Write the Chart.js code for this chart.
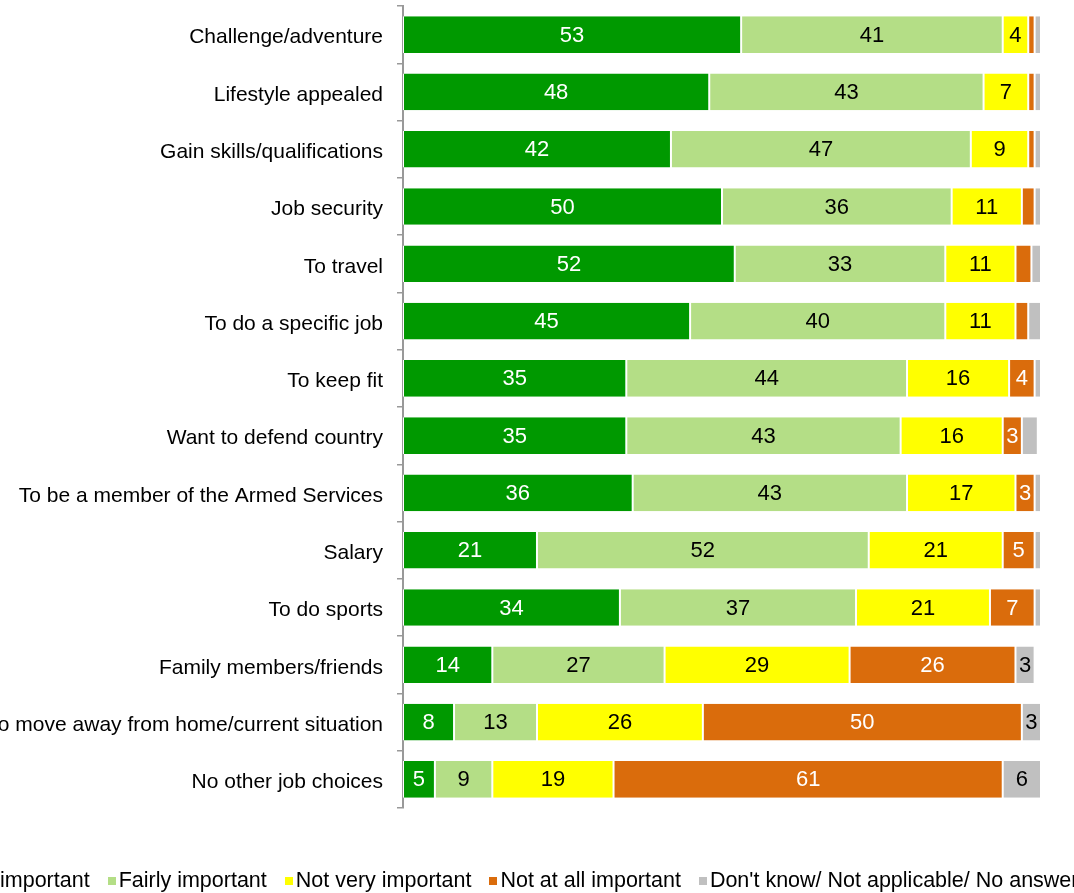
<!DOCTYPE html>
<html>
<head>
<meta charset="utf-8">
<script src="https://cdn.jsdelivr.net/npm/chart.js@4"></script>
<style>
  html, body { margin: 0; padding: 0; background: #fff; overflow: hidden; }
  #wrap { position: relative; width: 1074px; height: 893px; overflow: hidden; }
  #reasonsChart { position: absolute; left: 0; top: 0; }
  #legend {
    position: absolute; left: -60px; top: 868px;
    display: flex; white-space: nowrap;
    font: 21.5px "Liberation Sans", Arial, sans-serif; line-height: 24px; color: #000;
  }
  #legend .item { display: flex; align-items: center; margin-right: 18px; }
  #legend .box { width: 8px; height: 8px; margin: 2px 3px 0 0; }
</style>
</head>
<body>
<div id="wrap">
  <canvas id="reasonsChart" width="1074" height="893"></canvas>
  <div id="legend"></div>
</div>
<script>
const reasons = [
  "Challenge/adventure",
  "Lifestyle appealed",
  "Gain skills/qualifications",
  "Job security",
  "To travel",
  "To do a specific job",
  "To keep fit",
  "Want to defend country",
  "To be a member of the Armed Services",
  "Salary",
  "To do sports",
  "Family members/friends",
  "To move away from home/current situation",
  "No other job choices",
];

const veryImportant = [53, 48, 42, 50, 52, 45, 35, 35, 36, 21, 34, 14, 8, 5];
const fairlyImportant = [41, 43, 47, 36, 33, 40, 44, 43, 43, 52, 37, 27, 13, 9];
const notVeryImportant = [4, 7, 9, 11, 11, 11, 16, 16, 17, 21, 21, 29, 26, 19];
const notAtAllImportant = [1, 1, 1, 2, 2.5, 2, 4, 3, 3, 5, 7, 26, 50, 61];
const dontKnow = [1, 1, 1, 1, 1.5, 2, 1, 2.5, 1, 1, 1, 3, 3, 6];

const SERIES = [
  { label: "Very important", data: veryImportant, color: "#009900", text: "#fff" },
  { label: "Fairly important", data: fairlyImportant, color: "#B4DE86", text: "#000" },
  { label: "Not very important", data: notVeryImportant, color: "#FFFF00", text: "#000" },
  { label: "Not at all important", data: notAtAllImportant, color: "#DA6C0C", text: "#fff" },
  { label: "Don't know/ Not applicable/ No answer", data: dontKnow, color: "#C0C0C0", text: "#000" },
];

Chart.defaults.font.family = '"Liberation Sans", Arial, sans-serif';
Chart.defaults.font.size = 21;
Chart.defaults.color = "#000";

// writes each segment's value in its middle, skipping the slivers
const segmentLabels = {
  id: "segmentLabels",
  afterDatasetsDraw(chart) {
    const ctx = chart.ctx;
    ctx.save();
    ctx.font = '22px "Liberation Sans", Arial, sans-serif';
    ctx.textAlign = "center";
    ctx.textBaseline = "middle";
    chart.data.datasets.forEach((ds, i) => {
      chart.getDatasetMeta(i).data.forEach((bar, j) => {
        const v = ds.data[j];
        if (v < 3) return;
        const p = bar.getCenterPoint();
        ctx.fillStyle = SERIES[i].text;
        ctx.fillText(String(v), p.x, p.y + 1);
      });
    });
    ctx.restore();
  },
};

const datasets = SERIES.map((s) => ({
  label: s.label,
  data: s.data,
  backgroundColor: s.color,
  borderColor: "#fff",
  borderWidth: { left: 1, right: 1, top: 0, bottom: 0 },
  borderSkipped: false,
  barPercentage: 0.64,
  categoryPercentage: 1,
}));

const chart = new Chart(document.getElementById("reasonsChart"), {
  type: "bar",
  data: { labels: reasons, datasets },
  options: {
    indexAxis: "y",
    responsive: false,
    animation: false,
    layout: { padding: { top: 6, left: 0, right: 33, bottom: 0 } },
    plugins: {
      tooltip: { enabled: false },
      legend: { display: false },
    },
    scales: {
      x: {
        stacked: true,
        min: 0,
        max: 100,
        grid: { display: false },
        border: { display: false },
        ticks: { display: false },
        afterFit(scale) {
          scale.height = 85;
        },
      },
      y: {
        stacked: true,
        grid: {
          drawOnChartArea: false,
          drawTicks: true,
          tickLength: 6,
          color: "#999",
          lineWidth: 1.5,
        },
        border: { display: true, color: "#999", width: 2 },
        ticks: { padding: 14, labelOffset: 3, font: { size: 21 }, color: "#000" },
        afterFit(scale) {
          scale.width = 403;
          scale.paddingTop = 0;
          scale.paddingBottom = 0;
        },
      },
    },
  },
  plugins: [segmentLabels],
});

// legend row under the plot, one entry per dataset
const legendEl = document.getElementById("legend");
legendEl.innerHTML = chart.data.datasets
  .map((ds) => `<span class="item"><span class="box" style="background:${ds.backgroundColor}"></span>${ds.label}</span>`)
  .join("");
</script>
</body>
</html>
